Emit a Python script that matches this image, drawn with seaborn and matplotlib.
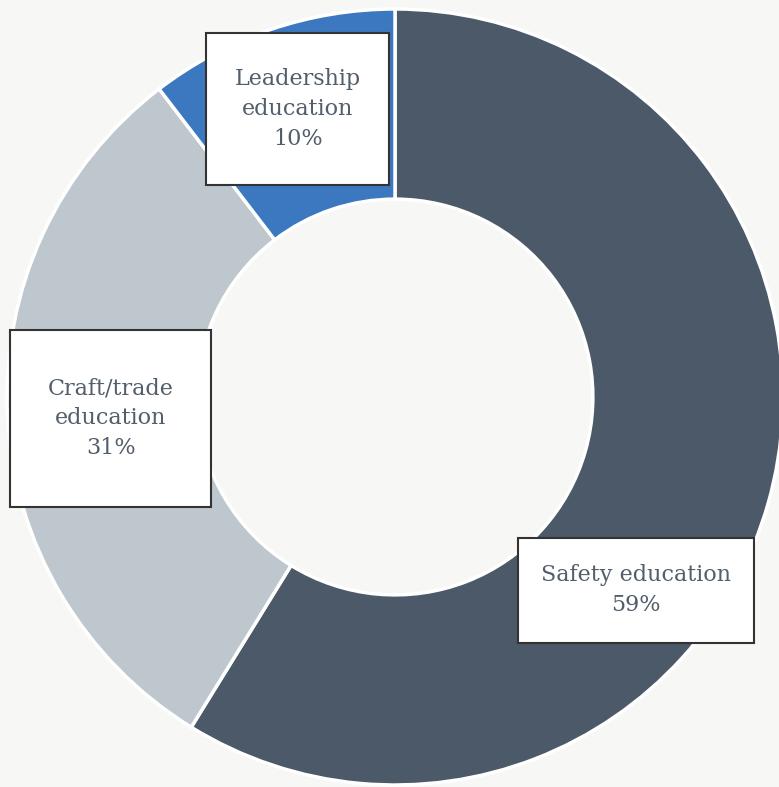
import matplotlib
matplotlib.use("Agg")
import matplotlib.pyplot as plt
import seaborn as sns
from matplotlib.patches import Rectangle

sns.set_theme(style="white")
plt.rcParams['font.family'] = ['DejaVu Serif']

# Data
categories = ["Safety education", "Craft/trade education", "Leadership education"]
label_lines = ["Safety education", "Craft/trade\neducation", "Leadership\neducation"]
values = [58.8, 30.8, 10.4]
colors = ["#4b5968", "#bdc7cd", "#3b78c0"]

W, H = 779, 787
CX, CY, R = 395, 397, 388  # pie centre and radius in pixels

# label box centres and sizes (pixels)
box_centre = [(636, 590), (111, 418), (298, 109)]
box_size = [(236, 105), (201, 177), (183, 152)]

fig = plt.figure(figsize=(W / 100, H / 100), dpi=100)
fig.patch.set_facecolor("#f7f7f5")
ax = fig.add_axes([0, 0, 1, 1])
ax.set_facecolor("#f7f7f5")

ax.pie(values, colors=colors, startangle=90, counterclock=False,
       radius=1, wedgeprops=dict(width=0.49, edgecolor="white", linewidth=2.5))

ax.set_xlim(-CX / R, (W - CX) / R)
ax.set_ylim(-(H - CY) / R, CY / R)
ax.set_aspect("equal")
ax.axis("off")


def px(x, y):
    return (x - CX) / R, (CY - y) / R


total = sum(values)
for name, v, (bx, by), (bw, bh) in zip(label_lines, values, box_centre, box_size):
    x0, y0 = px(bx - bw / 2, by + bh / 2)
    ax.add_patch(Rectangle((x0, y0), bw / R, bh / R, facecolor="white",
                           edgecolor="#333333", linewidth=1.5, zorder=3))
    tx, ty = px(bx, by)
    ax.text(tx, ty, f"{name}\n{round(v / total * 100)}%", ha="center", va="center",
            fontsize=16, color="#525e6b", linespacing=1.45, zorder=4)

fig.savefig("out.png", dpi=100, facecolor=fig.get_facecolor())
